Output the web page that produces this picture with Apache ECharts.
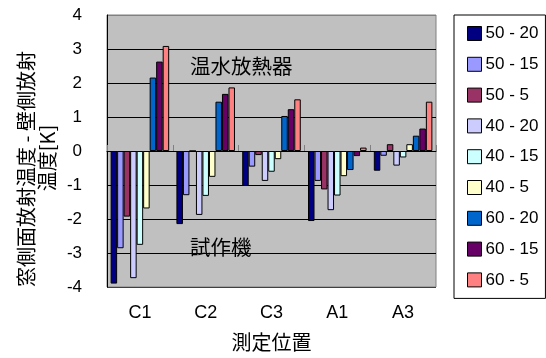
<!DOCTYPE html>
<html>
<head>
<meta charset="utf-8">
<script src="https://cdn.jsdelivr.net/npm/echarts@6/dist/echarts.min.js"></script>
<style>
  html, body { margin: 0; padding: 0; background: #fff; }
  #chart { width: 546px; height: 358px; }
</style>
</head>
<body>
<div id="chart"></div>
<script>
// Measurement locations
const categories = ['C1', 'C2', 'C3', 'A1', 'A3'];

// Series names (supply temperature - condition)
const seriesNames = ['50 - 20', '50 - 15', '50 - 5', '40 - 20', '40 - 15', '40 - 5', '60 - 20', '60 - 15', '60 - 5'];

// Window-side minus wall-side radiant temperature [K], per location
const s50_20 = [-3.90, -2.15, -1.03, -2.06, -0.58];
const s50_15 = [-2.86, -1.30, -0.46, -0.88, -0.14];
const s50_5  = [-1.93,  0.00, -0.12, -1.13,  0.20];
const s40_20 = [-3.74, -1.88, -0.88, -1.74, -0.43];
const s40_15 = [-2.76, -1.32, -0.61, -1.31, -0.19];
const s40_5  = [-1.69, -0.76, -0.24, -0.74,  0.20];
const s60_20 = [ 2.16,  1.45,  1.03, -0.56,  0.45];
const s60_15 = [ 2.63,  1.68,  1.23, -0.15,  0.66];
const s60_5  = [ 3.09,  1.87,  1.52,  0.10,  1.45];

const seriesValues = [s50_20, s50_15, s50_5, s40_20, s40_15, s40_5, s60_20, s60_15, s60_5];
const seriesColors = ['#000080', '#9999ff', '#993366', '#ccccff', '#ccffff', '#ffffcc', '#0066cc', '#660066', '#ff8080'];

const LATIN = '"Liberation Sans", Arial, sans-serif';
const CJK = '"Noto Sans CJK JP", sans-serif';

const chart = echarts.init(document.getElementById('chart'), null, { renderer: 'canvas' });

const series = seriesNames.map((name, i) => ({
  name: name,
  type: 'bar',
  xAxisIndex: 0,
  yAxisIndex: 0,
  data: seriesValues[i],
  barGap: '0%',
  barCategoryGap: '11%',
  itemStyle: { color: seriesColors[i], borderColor: '#000', borderWidth: 1 },
  emphasis: { disabled: true },
  animation: false
}));

chart.setOption({
  animation: false,
  textStyle: { fontFamily: LATIN },
  grid: {
    left: 107, top: 15, right: 110, bottom: 71,
    show: true, backgroundColor: '#c0c0c0', borderColor: '#808080', borderWidth: 1,
    containLabel: false
  },
  legend: {
    orient: 'vertical',
    left: 454, top: 15,
    padding: [10, 7, 10, 13],
    itemWidth: 14, itemHeight: 14, itemGap: 13.8,
    icon: 'rect',
    backgroundColor: '#fff',
    borderColor: '#000', borderWidth: 1,
    itemStyle: { borderColor: '#000', borderWidth: 1 },
    textStyle: { fontFamily: LATIN, fontSize: 17, color: '#000', padding: [0, 0, 0, -1] },
    data: seriesNames
  },
  xAxis: [
    {
      type: 'category',
      data: categories,
      position: 'bottom',
      axisLine: { show: true, onZero: true, lineStyle: { color: '#000', width: 1 } },
      axisTick: { show: true, inside: true, length: 6, lineStyle: { color: '#808080' } },
      axisLabel: { show: false },
      splitLine: { show: false }
    },
    {
      type: 'category',
      data: categories,
      position: 'bottom',
      axisLine: { show: false, onZero: false },
      axisTick: { show: false },
      axisLabel: { show: true, fontFamily: LATIN, fontSize: 18, color: '#000', margin: 17 },
      splitLine: { show: false },
      name: '測定位置',
      nameLocation: 'middle',
      nameGap: 45,
      nameTextStyle: { fontFamily: CJK, fontSize: 20, color: '#000' }
    }
  ],
  yAxis: {
    type: 'value',
    min: -4, max: 4, interval: 1,
    axisLine: { show: true, lineStyle: { color: '#000', width: 1 } },
    axisTick: { show: false },
    axisLabel: { fontFamily: LATIN, fontSize: 17, color: '#000', margin: 25 },
    splitLine: {
      show: true,
      lineStyle: { color: ['#404040', '#000', '#000', '#000', '#000', '#000', '#000', '#000', '#808080'], width: 1 }
    }
  },
  graphic: [
    {
      type: 'text', x: 26.5, y: 169, rotation: Math.PI / 2,
      style: { text: '窓側面放射温度 - 壁側放射', font: '20px ' + CJK, fill: '#000', align: 'center', verticalAlign: 'middle' }
    },
    {
      type: 'text', x: 47.5, y: 158, rotation: Math.PI / 2,
      style: { text: '温度[K]', font: '20px ' + CJK, fill: '#000', align: 'center', verticalAlign: 'middle' }
    },
    {
      type: 'text', x: 190, y: 66, z: 100,
      style: { text: '温水放熱器', font: '20.5px ' + CJK, fill: '#000', align: 'left', verticalAlign: 'middle' }
    },
    {
      type: 'text', x: 190, y: 247, z: 100,
      style: { text: '試作機', font: '20.5px ' + CJK, fill: '#000', align: 'left', verticalAlign: 'middle' }
    }
  ],
  series: series
});
</script>
</body>
</html>
